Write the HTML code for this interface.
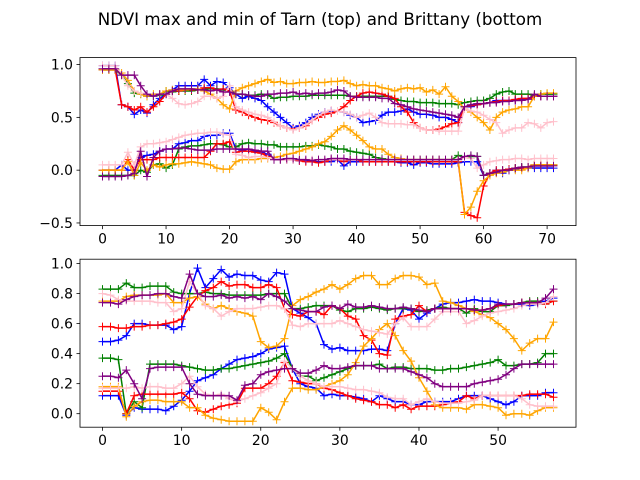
<!DOCTYPE html>
<html><head><meta charset="utf-8"><style>
body{margin:0;background:#fff}
svg{display:block;font-family:"DejaVu Sans","Liberation Sans",sans-serif}
</style></head><body>
<svg id="fig" width="640" height="480" viewBox="0 0 640 480">
<rect width="640" height="480" fill="#fff"/>
<text x="320" y="25" text-anchor="middle" font-size="16.7">NDVI max and min of Tarn (top) and Brittany (bottom</text>
</svg>
<script>
const colors=['blue','green','red','orange','pink','purple'];
// Top (Tarn) max series
const tarnBlueMax=[0.99,0.99,0.99,0.62,0.6,0.53,0.57,0.54,0.62,0.68,0.72,0.76,0.8,0.8,0.8,0.8,0.86,0.8,0.84,0.83,0.78,0.72,0.68,0.7,0.68,0.66,0.6,0.55,0.5,0.45,0.4,0.42,0.45,0.5,0.53,0.55,0.56,0.56,0.55,0.52,0.5,0.45,0.46,0.47,0.52,0.55,0.55,0.56,0.58,0.55,0.53,0.53,0.52,0.5,0.5,0.48,0.45,0.6,0.6,0.62,0.63,0.64,0.66,0.66,0.66,0.66,0.67,0.68,0.7,0.7,0.7,0.7];
const tarnGreenMax=[0.95,0.95,0.95,0.9,0.82,0.73,0.72,0.7,0.7,0.71,0.75,0.74,0.75,0.75,0.75,0.76,0.77,0.77,0.77,0.76,0.75,0.72,0.72,0.71,0.71,0.72,0.71,0.68,0.69,0.69,0.7,0.7,0.7,0.71,0.71,0.71,0.71,0.71,0.71,0.7,0.7,0.7,0.7,0.7,0.7,0.7,0.67,0.66,0.65,0.65,0.64,0.64,0.64,0.63,0.63,0.63,0.62,0.64,0.65,0.66,0.66,0.68,0.72,0.74,0.75,0.72,0.72,0.72,0.71,0.72,0.72,0.72];
const tarnRedMax=[0.95,0.95,0.95,0.62,0.6,0.57,0.6,0.55,0.6,0.65,0.72,0.75,0.75,0.76,0.76,0.76,0.78,0.78,0.76,0.77,0.75,0.57,0.55,0.52,0.5,0.48,0.47,0.45,0.42,0.4,0.39,0.4,0.42,0.47,0.5,0.53,0.54,0.56,0.6,0.66,0.7,0.73,0.74,0.73,0.72,0.7,0.68,0.6,0.55,0.45,0.4,0.38,0.38,0.39,0.41,0.44,0.45,0.6,0.61,0.62,0.63,0.64,0.65,0.66,0.66,0.67,0.68,0.68,0.7,0.7,0.7,0.7];
const tarnOrangeMax=[0.95,0.95,0.95,0.92,0.85,0.75,0.72,0.7,0.72,0.72,0.75,0.76,0.76,0.76,0.77,0.77,0.75,0.72,0.68,0.62,0.58,0.75,0.78,0.8,0.82,0.84,0.86,0.83,0.84,0.82,0.82,0.83,0.83,0.84,0.83,0.83,0.84,0.84,0.85,0.82,0.8,0.81,0.8,0.8,0.78,0.77,0.75,0.77,0.78,0.77,0.78,0.74,0.76,0.72,0.79,0.7,0.65,0.58,0.55,0.5,0.45,0.38,0.5,0.55,0.57,0.58,0.6,0.6,0.7,0.72,0.73,0.73];
const tarnPinkMax=[0.99,0.99,0.99,0.9,0.8,0.75,0.73,0.72,0.7,0.72,0.72,0.68,0.63,0.62,0.63,0.65,0.7,0.7,0.68,0.7,0.8,0.6,0.57,0.55,0.53,0.52,0.5,0.46,0.42,0.4,0.38,0.4,0.43,0.47,0.52,0.55,0.57,0.56,0.55,0.53,0.5,0.52,0.54,0.5,0.45,0.44,0.44,0.44,0.43,0.43,0.4,0.38,0.38,0.37,0.37,0.37,0.37,0.58,0.56,0.55,0.52,0.48,0.45,0.35,0.38,0.4,0.4,0.45,0.44,0.4,0.45,0.46];
const tarnPurpleMax=[0.96,0.96,0.96,0.9,0.9,0.9,0.8,0.72,0.7,0.72,0.72,0.75,0.77,0.77,0.77,0.76,0.76,0.75,0.76,0.74,0.74,0.72,0.72,0.71,0.7,0.7,0.72,0.72,0.73,0.73,0.74,0.72,0.73,0.72,0.73,0.73,0.74,0.76,0.75,0.7,0.69,0.69,0.69,0.69,0.68,0.68,0.63,0.62,0.6,0.58,0.57,0.56,0.55,0.54,0.53,0.52,0.5,0.6,0.62,0.63,0.63,0.64,0.64,0.65,0.65,0.66,0.66,0.67,0.72,0.7,0.7,0.7];
// Top (Tarn) min series
const tarnBlueMin=[0,0,0,0.05,0,0,0.12,0.14,0.15,0.18,0.2,0.2,0.25,0.26,0.28,0.28,0.32,0.33,0.33,0.35,0.35,0.2,0.19,0.2,0.18,0.17,0.15,0.1,0.1,0.1,0.1,0.09,0.09,0.08,0.08,0.08,0.08,0.1,0.04,0.08,0.08,0.08,0.08,0.08,0.08,0.08,0.08,0.07,0.07,0.05,0.07,0.07,0.06,0.06,0.06,0.06,0.07,0.08,0.08,0.08,-0.05,-0.03,0,-0.03,0,0.01,0.02,0.02,0.02,0.02,0.02,0.02];
const tarnGreenMin=[-0.05,-0.05,-0.05,-0.05,-0.05,-0.05,0,-0.02,0.05,0.06,0.02,0.05,0.2,0.22,0.23,0.23,0.24,0.25,0.25,0.24,0.22,0.22,0.25,0.26,0.25,0.25,0.24,0.24,0.22,0.22,0.22,0.22,0.23,0.23,0.24,0.23,0.22,0.2,0.2,0.18,0.17,0.16,0.15,0.12,0.11,0.1,0.1,0.1,0.1,0.1,0.1,0.1,0.1,0.1,0.1,0.1,0.14,0.12,0.13,0.13,-0.05,-0.03,-0.02,0,0.01,0.02,0.03,0.03,0.05,0.05,0.05,0.05];
const tarnRedMin=[0,0,0,0,0.1,0,0.1,0.1,0.1,0.12,0.12,0.12,0.12,0.12,0.12,0.12,0.12,0.18,0.25,0.25,0.27,0.17,0.18,0.18,0.17,0.16,0.13,0.1,0.1,0.1,0.1,0.09,0.08,0.08,0.07,0.08,0.1,0.1,0.08,0.1,0.1,0.08,0.08,0.08,0.08,0.08,0.08,0.08,0.08,0.08,0.08,0.08,0.08,0.08,0.08,0.08,0.08,-0.4,-0.43,-0.45,-0.15,-0.03,0,0,0.01,0.02,0.02,0.03,0.05,0.05,0.05,0.05];
const tarnOrangeMin=[0,0,0,0,0.08,-0.05,0.07,0,0.05,0.03,0.05,0.06,0.06,0.07,0.08,0.07,0.06,0.05,0.02,0.01,0.01,0.08,0.1,0.1,0.1,0.11,0.11,0.12,0.13,0.15,0.16,0.18,0.2,0.22,0.25,0.27,0.32,0.38,0.42,0.38,0.33,0.28,0.22,0.2,0.2,0.15,0.12,0.11,0.1,0.1,0.1,0.1,0.1,0.1,0.1,0.1,0.1,-0.42,-0.35,-0.2,-0.1,-0.05,-0.03,-0.02,0,0,0,0.02,0.05,0.05,0.05,0.05];
const tarnPinkMin=[0.05,0.05,0.05,0.05,0.17,0.05,0.22,0.25,0.25,0.26,0.27,0.29,0.31,0.33,0.34,0.35,0.35,0.36,0.36,0.34,0.33,0.15,0.14,0.12,0.13,0.13,0.12,0.1,0.1,0.1,0.1,0.1,0.1,0.1,0.1,0.1,0.1,0.1,0.1,0.1,0.1,0.1,0.1,0.1,0.1,0.1,0.1,0.1,0.1,0.1,0.1,0.1,0.1,0.1,0.1,0.1,0.1,0.12,0.11,0.02,0.05,0.08,0.09,0.1,0.1,0.11,0.11,0.1,0.11,0.11,0.11,0.11];
const tarnPurpleMin=[-0.06,-0.06,-0.06,-0.06,-0.05,-0.03,0.18,-0.06,0.12,0.18,0.2,0.2,0.21,0.21,0.2,0.19,0.19,0.19,0.2,0.2,0.2,0.2,0.2,0.2,0.19,0.18,0.18,0.1,0.1,0.11,0.11,0.1,0.1,0.09,0.1,0.1,0.11,0.11,0.11,0.1,0.1,0.1,0.1,0.1,0.1,0.1,0.1,0.1,0.1,0.1,0.1,0.1,0.1,0.1,0.1,0.1,0.1,0.13,0.14,0.13,-0.05,-0.03,-0.02,0,0,0.02,0.03,0.03,0.04,0.04,0.04,0.04];
// Bottom (Brittany) max series
const brBlueMax=[0.48,0.48,0.49,0.52,0.6,0.6,0.59,0.59,0.59,0.56,0.58,0.8,0.97,0.84,0.9,0.96,0.91,0.93,0.92,0.92,0.89,0.88,0.94,0.93,0.7,0.67,0.64,0.6,0.46,0.43,0.44,0.42,0.42,0.42,0.43,0.43,0.42,0.6,0.7,0.69,0.63,0.67,0.7,0.73,0.74,0.74,0.75,0.76,0.75,0.75,0.74,0.73,0.73,0.73,0.72,0.73,0.75,0.77];
const brGreenMax=[0.83,0.83,0.83,0.87,0.84,0.84,0.85,0.85,0.85,0.81,0.8,0.8,0.8,0.81,0.8,0.8,0.79,0.79,0.79,0.79,0.79,0.8,0.8,0.8,0.7,0.7,0.71,0.72,0.72,0.72,0.69,0.68,0.7,0.7,0.71,0.7,0.69,0.7,0.7,0.7,0.68,0.69,0.7,0.71,0.7,0.7,0.67,0.7,0.68,0.68,0.72,0.72,0.73,0.74,0.75,0.75,0.73,0.75];
const brRedMax=[0.58,0.58,0.57,0.57,0.58,0.58,0.59,0.59,0.6,0.61,0.63,0.71,0.78,0.82,0.84,0.88,0.85,0.86,0.86,0.84,0.84,0.86,0.84,0.7,0.66,0.65,0.68,0.68,0.66,0.72,0.7,0.65,0.63,0.52,0.49,0.4,0.39,0.63,0.65,0.66,0.72,0.68,0.7,0.7,0.7,0.7,0.7,0.69,0.69,0.7,0.72,0.73,0.73,0.74,0.74,0.74,0.73,0.75];
const brOrangeMax=[0.75,0.75,0.75,0.78,0.79,0.79,0.79,0.79,0.8,0.74,0.74,0.77,0.78,0.73,0.7,0.72,0.7,0.68,0.67,0.65,0.48,0.44,0.45,0.5,0.72,0.76,0.78,0.81,0.83,0.86,0.83,0.86,0.9,0.92,0.92,0.86,0.86,0.9,0.92,0.92,0.91,0.86,0.87,0.75,0.74,0.72,0.7,0.68,0.66,0.64,0.6,0.56,0.5,0.42,0.47,0.5,0.5,0.61];
const brPinkMax=[0.8,0.79,0.76,0.75,0.75,0.75,0.75,0.74,0.74,0.68,0.7,0.88,0.8,0.72,0.7,0.65,0.68,0.7,0.7,0.7,0.71,0.72,0.72,0.7,0.59,0.58,0.6,0.6,0.6,0.6,0.62,0.6,0.58,0.56,0.55,0.54,0.53,0.6,0.64,0.58,0.58,0.58,0.63,0.68,0.68,0.68,0.6,0.62,0.65,0.67,0.68,0.69,0.7,0.72,0.73,0.73,0.74,0.78];
const brPurpleMax=[0.74,0.74,0.73,0.76,0.78,0.79,0.79,0.8,0.8,0.78,0.77,0.93,0.8,0.78,0.78,0.79,0.77,0.78,0.77,0.78,0.76,0.8,0.78,0.75,0.7,0.69,0.68,0.68,0.71,0.72,0.7,0.73,0.71,0.71,0.72,0.71,0.7,0.7,0.71,0.7,0.69,0.68,0.7,0.7,0.7,0.7,0.7,0.69,0.69,0.7,0.73,0.73,0.73,0.74,0.74,0.74,0.77,0.83];
// Bottom (Brittany) min series
const brBlueMin=[0.12,0.12,0.12,-0.01,0.04,0.03,0.03,0.03,0.02,0.05,0.09,0.15,0.22,0.24,0.26,0.3,0.33,0.36,0.37,0.38,0.4,0.43,0.44,0.45,0.3,0.2,0.18,0.17,0.12,0.13,0.12,0.12,0.11,0.1,0.08,0.12,0.1,0.08,0.08,0.06,0.06,0.08,0.08,0.08,0.08,0.1,0.12,0.12,0.12,0.1,0.08,0.06,0.08,0.12,0.12,0.12,0.14,0.14];
const brGreenMin=[0.37,0.37,0.36,0,0.08,0.04,0.33,0.33,0.33,0.33,0.32,0.31,0.3,0.29,0.29,0.3,0.3,0.31,0.32,0.33,0.34,0.35,0.37,0.4,0.3,0.25,0.25,0.22,0.24,0.26,0.28,0.3,0.32,0.32,0.32,0.33,0.3,0.31,0.31,0.3,0.3,0.3,0.29,0.29,0.3,0.3,0.31,0.32,0.33,0.34,0.36,0.32,0.32,0.33,0.33,0.34,0.4,0.4];
const brRedMin=[0.15,0.15,0.15,0,0.12,0.13,0.13,0.13,0.13,0.13,0.14,0.1,0.02,0.01,0.03,0.05,0.06,0.07,0.17,0.17,0.17,0.2,0.25,0.34,0.22,0.21,0.2,0.2,0.17,0.16,0.14,0.12,0.1,0.09,0.08,0.06,0.06,0.04,0.06,0.03,0.05,0.05,0.05,0.06,0.07,0.08,0.12,0.1,0.12,0.12,0.12,0.12,0.12,0.12,0.13,0.13,0.13,0.11];
const brOrangeMin=[0.18,0.18,0.18,-0.02,0.05,0.08,0.09,0.09,0.08,0.08,0.08,0.04,0.04,-0.01,-0.03,-0.04,-0.05,-0.05,-0.05,-0.05,0.04,0.01,-0.04,0.08,0.17,0.17,0.16,0.16,0.18,0.2,0.22,0.26,0.34,0.45,0.5,0.56,0.6,0.52,0.42,0.35,0.24,0.15,0.06,0.04,0.04,0.04,0.03,0.06,0.06,0.05,0.04,-0.01,0,0,-0.01,0.02,0.04,0.04];
const brPinkMin=[0.17,0.17,0.17,0.17,0.18,0.17,0.18,0.18,0.17,0.17,0.2,0.25,0.18,0.13,0.12,0.13,0.1,0.08,0.1,0.12,0.14,0.17,0.2,0.35,0.3,0.25,0.22,0.2,0.18,0.18,0.18,0.17,0.16,0.16,0.15,0.14,0.11,0.1,0.1,0.06,0.08,0.1,0.08,0.07,0.07,0.07,0.08,0.09,0.12,0.12,0.12,0.12,0.12,0.1,0.06,0.05,0.05,0.05];
const brPurpleMin=[0.25,0.25,0.24,0.29,0.2,0.1,0.3,0.31,0.31,0.31,0.31,0.2,0.13,0.12,0.12,0.12,0.12,0.09,0.19,0.2,0.26,0.28,0.29,0.3,0.3,0.27,0.27,0.29,0.32,0.3,0.3,0.31,0.32,0.32,0.32,0.3,0.3,0.3,0.3,0.28,0.26,0.24,0.2,0.18,0.18,0.18,0.18,0.2,0.21,0.22,0.23,0.26,0.3,0.33,0.33,0.33,0.33,0.33];

const topTicksX=[0,10,20,30,40,50,60,70];
const topTicksY=[-0.5,0.0,0.5,1.0];
const botTicksX=[0,10,20,30,40,50];
const botTicksY=[0.0,0.2,0.4,0.6,0.8,1.0];

const NS='http://www.w3.org/2000/svg';
const svg=document.getElementById('fig');
function mk(tag,attrs,parent){const e=document.createElementNS(NS,tag);for(const k in attrs)e.setAttribute(k,attrs[k]);(parent||svg).appendChild(e);return e;}

function panel(name,box,xlim,ylim,xt,yt,series){
  const sx=v=>box.x+(v-xlim[0])/(xlim[1]-xlim[0])*box.w;
  const sy=v=>box.y+box.h-(v-ylim[0])/(ylim[1]-ylim[0])*box.h;
  const g=mk('g',{});
  
  
  const clipId=name+'-clip';
  const cp=mk('clipPath',{id:clipId},g);mk('rect',{x:box.x,y:box.y,width:box.w,height:box.h},cp);
  const plot=mk('g',{'clip-path':'url(#'+clipId+')'},g);
  series.forEach(s=>{
    const sg=mk('g',{},plot);
    
    
    const pts=s.data.map((v,i)=>sx(i).toFixed(2)+','+sy(v).toFixed(2)).join(' ');
    mk('polyline',{points:pts,fill:'none',stroke:s.color,'stroke-width':1.5,'stroke-linejoin':'round'},sg);
    let d='';
    s.data.forEach((v,i)=>{const x=sx(i),y=sy(v);d+=`M${(x-4).toFixed(1)},${y.toFixed(1)}h8M${x.toFixed(1)},${(y-4).toFixed(1)}v8`;});
    mk('path',{d:d,stroke:s.color,'stroke-width':1,fill:'none'},sg);
  });
  const frame=mk('rect',{x:box.x,y:box.y,width:box.w,height:box.h,fill:'none',stroke:'#000','stroke-width':0.8},g);
  
  
  xt.forEach(t=>{const x=sx(t);
    mk('line',{x1:x,x2:x,y1:box.y+box.h,y2:box.y+box.h+3.5,stroke:'#000','stroke-width':0.8},g);
    const tx=mk('text',{x:x,y:box.y+box.h+18,'text-anchor':'middle','font-size':13.9},g);tx.textContent=String(t);
    
    
  });
  yt.forEach(t=>{const y=sy(t);
    mk('line',{x1:box.x-3.5,x2:box.x,y1:y,y2:y,stroke:'#000','stroke-width':0.8},g);
    const tx=mk('text',{x:box.x-7,y:y+5,'text-anchor':'end','font-size':13.9},g);tx.textContent=(t<0?'\u22120':'')+(t<0?Math.abs(t).toFixed(1).slice(1):t.toFixed(1));
    
    
  });
}
const topSeries=[
 {name:'tarn-blue-max',color:colors[0],data:tarnBlueMax},{name:'tarn-blue-min',color:colors[0],data:tarnBlueMin},
 {name:'tarn-green-max',color:colors[1],data:tarnGreenMax},{name:'tarn-green-min',color:colors[1],data:tarnGreenMin},
 {name:'tarn-red-max',color:colors[2],data:tarnRedMax},{name:'tarn-red-min',color:colors[2],data:tarnRedMin},
 {name:'tarn-orange-max',color:colors[3],data:tarnOrangeMax},{name:'tarn-orange-min',color:colors[3],data:tarnOrangeMin},
 {name:'tarn-pink-max',color:colors[4],data:tarnPinkMax},{name:'tarn-pink-min',color:colors[4],data:tarnPinkMin},
 {name:'tarn-purple-max',color:colors[5],data:tarnPurpleMax},{name:'tarn-purple-min',color:colors[5],data:tarnPurpleMin}];
const botSeries=[
 {name:'brittany-blue-max',color:colors[0],data:brBlueMax},{name:'brittany-blue-min',color:colors[0],data:brBlueMin},
 {name:'brittany-green-max',color:colors[1],data:brGreenMax},{name:'brittany-green-min',color:colors[1],data:brGreenMin},
 {name:'brittany-red-max',color:colors[2],data:brRedMax},{name:'brittany-red-min',color:colors[2],data:brRedMin},
 {name:'brittany-orange-max',color:colors[3],data:brOrangeMax},{name:'brittany-orange-min',color:colors[3],data:brOrangeMin},
 {name:'brittany-pink-max',color:colors[4],data:brPinkMax},{name:'brittany-pink-min',color:colors[4],data:brPinkMin},
 {name:'brittany-purple-max',color:colors[5],data:brPurpleMax},{name:'brittany-purple-min',color:colors[5],data:brPurpleMin}];
panel('tarn-chart',{x:80,y:57.6,w:496,h:168},[-3.55,74.55],[-0.525,1.066],topTicksX,topTicksY,topSeries);
panel('brittany-chart',{x:80,y:259.2,w:496,h:168},[-2.85,59.85],[-0.09,1.029],botTicksX,botTicksY,botSeries);
</script>
</body></html>
